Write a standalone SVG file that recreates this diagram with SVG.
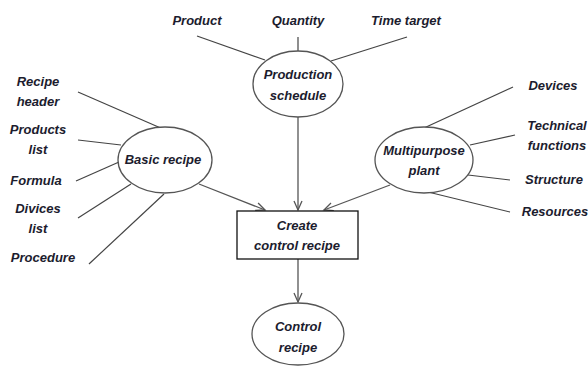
<svg xmlns="http://www.w3.org/2000/svg" width="588" height="367" viewBox="0 0 588 367">
<defs>
<style>
text{font-family:"Liberation Sans",Arial,sans-serif;font-size:13px;font-weight:bold;font-style:italic;fill:#1c1c2e;text-anchor:middle}
.n{fill:#fff;stroke:#555;stroke-width:1.3}
.box{fill:#fff;stroke:#111;stroke-width:1.3}
.l{stroke:#444;stroke-width:1.2;fill:none}
.a{stroke:#555;stroke-width:1.3;fill:none;marker-end:url(#ah)}
</style>
<marker id="ah" markerWidth="12" markerHeight="10" refX="10" refY="5" orient="auto" markerUnits="userSpaceOnUse">
<path d="M1,1 L10,5 L1,9" fill="none" stroke="#555" stroke-width="1.3"/>
</marker>
</defs>
<g id="connectors">
<line class="l" x1="197" y1="36" x2="265" y2="60"/>
<line class="l" x1="298" y1="37" x2="298" y2="51"/>
<line class="l" x1="407" y1="37" x2="331" y2="61"/>
<line class="l" x1="78" y1="92" x2="163" y2="129"/>
<line class="l" x1="78" y1="140" x2="121" y2="145"/>
<line class="l" x1="76" y1="181" x2="119" y2="162"/>
<line class="l" x1="78" y1="218" x2="131" y2="184"/>
<line class="l" x1="89" y1="264" x2="164" y2="194"/>
<line class="l" x1="513" y1="87" x2="424" y2="128"/>
<line class="l" x1="515" y1="135" x2="470" y2="145"/>
<line class="l" x1="510" y1="180" x2="468" y2="175"/>
<line class="l" x1="510" y1="212" x2="428" y2="192"/>
<line class="a" x1="298" y1="117" x2="298" y2="210"/>
<line class="a" x1="199" y1="184" x2="265" y2="210"/>
<line class="a" x1="390" y1="185" x2="324" y2="210"/>
<line class="a" x1="298" y1="259" x2="298" y2="302"/>
</g>
<g id="product"><text x="197" y="25">Product</text></g>
<g id="quantity"><text x="298" y="25">Quantity</text></g>
<g id="time-target"><text x="406" y="25">Time target</text></g>
<g id="production-schedule"><ellipse class="n" cx="298" cy="84" rx="45" ry="33"/><text x="298" y="79">Production</text><text x="298" y="100">schedule</text></g>
<g id="recipe-header"><text x="38" y="86">Recipe</text><text x="38" y="106">header</text></g>
<g id="products-list"><text x="38" y="134">Products</text><text x="38" y="154">list</text></g>
<g id="formula"><text x="36" y="185">Formula</text></g>
<g id="divices-list"><text x="38" y="213">Divices</text><text x="38" y="233">list</text></g>
<g id="procedure"><text x="43" y="262">Procedure</text></g>
<g id="basic-recipe"><ellipse class="n" cx="165" cy="160" rx="47" ry="33"/><text x="163" y="164">Basic  recipe</text></g>
<g id="devices"><text x="553" y="90">Devices</text></g>
<g id="technical-functions"><text x="557" y="130">Technical</text><text x="557" y="150">functions</text></g>
<g id="structure"><text x="554" y="184">Structure</text></g>
<g id="resources"><text x="555" y="216">Resources</text></g>
<g id="multipurpose-plant"><ellipse class="n" cx="424" cy="160" rx="49" ry="33"/><text x="424" y="155">Multipurpose</text><text x="424" y="175">plant</text></g>
<g id="create-control-recipe"><rect class="box" x="237" y="211" width="121" height="48"/><text x="297" y="230">Create</text><text x="297" y="250">control recipe</text></g>
<g id="control-recipe"><ellipse class="n" cx="298" cy="334" rx="46" ry="31"/><text x="298" y="331">Control</text><text x="298" y="352">recipe</text></g>
</svg>
